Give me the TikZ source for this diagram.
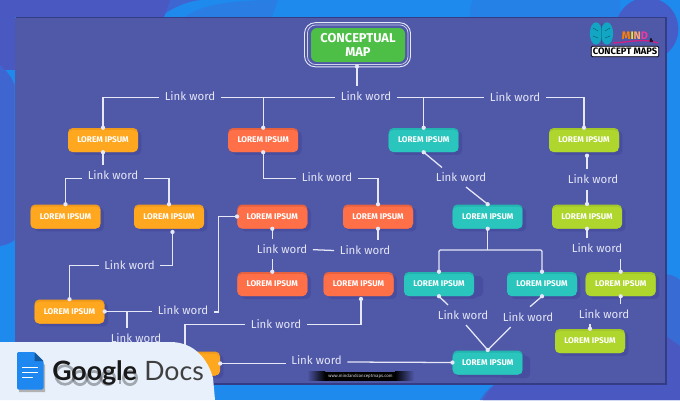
\documentclass[tikz,border=0pt]{standalone}
\usepackage{fontspec}
\setmainfont{Fira Sans}
\newfontfamily\gfont{Lato}
\usetikzlibrary{shadows,calc}
\definecolor{panelc}{HTML}{5058A8}
\definecolor{shadowc}{HTML}{474E9F}
\definecolor{edgec}{HTML}{343C86}
\definecolor{skyc}{HTML}{1E8AEE}
\definecolor{indc}{HTML}{4A58C2}
\definecolor{midc}{HTML}{3F66D0}
\definecolor{linec}{HTML}{E6E8F8}
\definecolor{txtc}{HTML}{E4E6F6}
\definecolor{oA}{HTML}{FFA71E}\definecolor{oB}{HTML}{F09A1C}
\definecolor{rA}{HTML}{FF7049}\definecolor{rB}{HTML}{E6623F}
\definecolor{tA}{HTML}{2AC6BE}\definecolor{tB}{HTML}{22B4AE}
\definecolor{gA}{HTML}{AFD62C}\definecolor{gB}{HTML}{A2C72A}
\definecolor{cA}{HTML}{4DBF46}
\definecolor{blobc}{HTML}{E7F0FB}
\definecolor{docc}{HTML}{1E88F0}
\definecolor{brainc}{HTML}{12A6C4}
\newcommand{\dt}[1]{\fill[linec] (#1) circle (1.6pt);}
\tikzset{
  colbox/.style 2 args={draw=none,fill=#2,rounded corners=3.5pt,minimum width=52.5pt,minimum height=18pt,
    inner sep=0pt,text=white,font=\bfseries\fontsize{6.2}{7}\selectfont,
    general shadow={fill=shadowc,shadow xshift=2.6pt,shadow yshift=-2.2pt},
    path picture={\fill[#1] ([yshift=-1.6pt]path picture bounding box.north west) rectangle (path picture bounding box.south east);}},
  obox/.style={colbox={oA}{oB}},
  rbox/.style={colbox={rA}{rB}},
  tbox/.style={colbox={tA}{tB}},
  gbox/.style={colbox={gA}{gB}},
  lw/.style={inner xsep=4pt,inner ysep=0pt,minimum height=15pt,text=txtc,font=\fontsize{8.6}{10}\selectfont},
  conn/.style={draw=linec,line width=0.95pt},
}
\begin{document}
\begin{tikzpicture}[x=0.75pt,y=-0.75pt]
\useasboundingbox (0,0) rectangle (680,400);
\clip (0,0) rectangle (680,400);
% background
\fill[skyc] (0,0) rectangle (680,400);
\fill[skyc!65!midc] (185,17) .. controls (200,6) and (225,0) .. (278,0) -- (272,17) -- cycle;
\fill[midc] (160,17) .. controls (172,8) and (185,2) .. (200,0) -- (0,0) -- (0,17) -- cycle;
\fill[indc] (0,0) -- (170,0) .. controls (168,6) and (166,12) .. (164,17) -- (0,17) -- cycle;
\fill[indc] (0,0) rectangle (14.5,70);
\fill[midc] (0,65) .. controls (8,72) and (12,78) .. (14.5,85) -- (14.5,240) .. controls (10,244) and (5,245) .. (0,246) -- cycle;
\fill[indc!60!skyc] (660,274) .. controls (670,274) and (676,276) .. (680,280) -- (680,400) -- (480,400) .. controls (485,392) and (490,387) .. (497,383) -- (660,383) -- cycle;
\fill[indc] (680,346) -- (680,400) -- (483,400) .. controls (487,392) and (492,387) .. (497,383) -- (666,383) -- (666,336) -- cycle;
\fill[skyc!75!midc] (470,17) .. controls (470,8) and (471,4) .. (473,0) -- (620,0) -- (620,17) -- cycle;
\fill[indc!92!skyc] (647,29) circle[radius=23.5pt];
% panel
\fill[edgec] (15.5,17) rectangle (667,384.5);
\fill[panelc] (15,17.5) rectangle (665,383);
% concept box
\node[draw=none,fill=cA,rounded corners=4.5pt,minimum width=70.5pt,minimum height=25.5pt,inner sep=0pt,
  text=white,align=center,font=\bfseries\fontsize{9.6}{10.6}\selectfont] (concept) at (358,45) {CONCEPTUAL\\MAP};
\draw[linec!85!panelc,line width=0.55pt,rounded corners=6pt] (307.5,25) rectangle (408,64.5);
\draw[linec,line width=0.7pt,rounded corners=8pt] (304.5,22.7) rectangle (410.5,66.8);
\coordinate (cb) at (357,66.5);
% boxes
\node[obox] (o1) at (103,140) {LOREM IPSUM};
\node[rbox] (r1) at (263.2,140) {LOREM IPSUM};
\node[tbox] (t1) at (423.7,140) {LOREM IPSUM};
\node[gbox] (g1) at (584,140) {LOREM IPSUM};
\node[obox] (o2) at (65.5,216.5) {LOREM IPSUM};
\node[obox] (o3) at (169,216.5) {LOREM IPSUM};
\node[rbox] (r2) at (272.3,216.5) {LOREM IPSUM};
\node[rbox] (r3) at (378,216.5) {LOREM IPSUM};
\node[tbox] (t2) at (487.7,216.5) {LOREM IPSUM};
\node[gbox] (g2) at (587,216.5) {LOREM IPSUM};
\node[rbox] (r4) at (272.3,284) {LOREM IPSUM};
\node[rbox] (r5) at (358.5,284) {LOREM IPSUM};
\fill[shadowc,rounded corners=3pt] (440,276) rectangle (483,296.5);
\node[tbox] (t3) at (439,284) {LOREM IPSUM};
\node[tbox] (t4) at (542,284) {LOREM IPSUM};
\node[gbox] (g3) at (620.7,284) {LOREM IPSUM};
\node[obox] (o4) at (69.5,311.5) {LOREM IPSUM};
\node[gbox] (g4) at (590,341) {LOREM IPSUM};
\fill[shadowc,rounded corners=3pt] (500,356) rectangle (530,378);
\node[tbox] (t5) at (487.7,362.5) {LOREM IPSUM};
\node[obox] (o5) at (185,363.5) {};
% link words
\node[lw] (L1) at (190,96) {Link word};
\node[lw] (L2) at (366,96) {Link word};
\node[lw] (L3) at (515,97) {Link word};
\node[lw] (L4) at (113,175.5) {Link word};
\node[lw] (L5) at (327,177.5) {Link word};
\node[lw] (L6) at (461,177.5) {Link word};
\node[lw] (L7) at (593,179.5) {Link word};
\node[lw] (L8) at (129.5,265.5) {Link word};
\node[lw] (L9) at (282,249) {Link word};
\node[lw] (L10) at (365,250.5) {Link word};
\node[lw] (L11) at (597,248.5) {Link word};
\node[lw] (L12) at (183,310) {Link word};
\node[lw] (L13) at (136,338) {Link word};
\node[lw] (L14) at (276,324.5) {Link word};
\node[lw] (L15) at (463,315.5) {Link word};
\node[lw] (L16) at (528,317) {Link word};
\node[lw] (L17) at (604,314) {Link word};
\node[lw] (L18) at (316.5,360) {Link word};
% helper coordinates
\coordinate (y97a) at (0,97.3);
\coordinate (o3b) at (172.5,232);
\coordinate (g1b) at (587,155.7);
\coordinate (g2t) at (587,204);
\coordinate (r5b) at (361,299);
\coordinate (b13) at (127,312);
\coordinate (bus) at (487.7,250);
\coordinate (t1e) at (442,167.5);
\coordinate (L6e) at (466,187);
\coordinate (t3e) at (448,305);
\coordinate (t4e) at (530,306.7);
\coordinate (L15e) at (466,325);
\coordinate (L16e) at (510.7,327);
\coordinate (t5t) at (487.7,350);
% connectors
\draw[conn] (cb) -- (cb |- L2.north);
\draw[conn] (L1.west |- y97a) -| (o1.north);
\draw[conn] (L1.east |- y97a) -- (L2.west |- y97a);
\draw[conn] (r1.north) -- (r1.north |- y97a);
\draw[conn] (L2.east |- y97a) -- (L3.west |- y97a);
\draw[conn] (t1.north) -- (t1.north |- y97a);
\draw[conn] (L3.east |- y97a) -| (g1.north);
\draw[conn] (o1.south) -- (o1.south |- L4.north);
\draw[conn] ([yshift=-2pt]L4.west) -| (o2.north);
\draw[conn] ([yshift=-2pt]L4.east) -| (o3.north);
\draw[conn] (o3b) |- (L8.east);
\draw[conn] (L8.west) -| (o4.north);
\draw[conn] (o4.east) -- (L12.west |- o4.east);
\draw[conn] (b13) -- (b13 |- L13.north);
\draw[conn] ([yshift=-1.5pt]L12.east) -| ($(L12.east)+(4.5,0)$) |- (r2.west);
\draw[conn] (r1.south) |- ([yshift=-0.5pt]L5.west);
\draw[conn] ([yshift=-0.5pt]L5.east) -| (r3.north);
\draw[conn] (r2.south) -- (r2.south |- L9.north);
\draw[conn] (r4.north |- L9.south) -- (r4.north);
\draw[conn] ([yshift=-0.5pt]L9.east) -- (L10.west);
\draw[conn] (r3.south) -- (r3.south |- L10.north);
\draw[conn] (r5b) |- (L14.east);
\draw[conn] (L14.west) -| (o5.north);
\draw[conn] (o5.east) -- (L18.west |- o5.east);
\draw[conn] ([yshift=-1.5pt]L18.east) -- (t5.west);
\draw[conn] (t1.south) -- (t1e);
\draw[conn] (L6e) -- (t2.north);
\draw[conn] (t2.south) -- (bus);
\draw[conn,rounded corners=1pt] (t3.north) |- (bus) -| (t4.north);
\draw[conn] (t3.south) -- (t3e);
\draw[conn] (t4.south) -- (t4e);
\draw[conn] (L15e) -- (t5t);
\draw[conn] (L16e) -- (t5t);
\draw[conn] (g1b) -- (g1b |- L7.north);
\draw[conn] (g2t |- L7.south) -- (g2t);
\draw[conn] (g2.south) -- (g2.south |- L11.north);
\draw[conn] (g3.north |- L11.south) -- (g3.north);
\draw[conn] (g3.south) -- (g3.south |- L17.north);
\draw[conn] (g4.north |- L17.south) -- (g4.north);
% dots
\foreach \p in {cb,o1.north,o1.south,r1.north,r1.south,t1.north,t1.south,g1.north,g1b,o2.north,o3.north,o3b,r2.west,r2.south,r3.north,r3.south,t2.north,t2.south,g2t,g2.south,r4.north,r5b,t3.north,t3.south,t4.north,t4.south,g3.north,g3.south,o4.north,o4.east,g4.north,t5t,t5.west,o5.east}{\dt{\p}}
% logo
\begin{scope}
\fill[brainc] (596,33.5) ellipse[x radius=4.6pt,y radius=8.4pt];
\fill[brainc] (607,33.5) ellipse[x radius=4.6pt,y radius=8.4pt];
\draw[teal!70!black,line width=0.3pt] (601.5,23) -- (601.5,44) (593,28) -- (598,31) (593,36) -- (598,38) (610,28) -- (605,31) (610,36) -- (605,38);
\draw[magenta!70!violet,line width=1pt] (613,43) .. controls (630,42) and (645,38) .. (658,43);
\node[inner sep=0pt,font=\bfseries\fontsize{8.2}{9}\selectfont] (mind) at (635,35.5) {\textcolor{orange}{M}\textcolor{yellow!85!orange}{I}\textcolor{pink!60!orange}{N}\textcolor{magenta!70!pink}{D}};
\node[inner sep=0pt,text=black,font=\bfseries\fontsize{4}{5}\selectfont] (amp) at (651.5,40.5) {\&};
\node[fill=white,draw=black,line width=0.6pt,rounded corners=0.8pt,inner sep=0pt,minimum width=50.5pt,minimum height=7.8pt,text=black,font=\bfseries\fontsize{7}{7}\selectfont] (cmaps) at (625,51.5) {CONCEPT MAPS};
\end{scope}
% website strip
\shade[left color=panelc,right color=black] (307,371.5) rectangle (325,380.5);
\fill[black] (325,371.5) rectangle (395,380.5);
\shade[left color=black,right color=panelc] (395,371.5) rectangle (414,380.5);
\node[inner sep=0pt,text=white!85!black,font=\fontsize{3.3}{4}\selectfont] (web) at (360.5,376) {www.mindandconceptmaps.com};
% google docs card
\fill[blobc] (0,342) -- (170,342) .. controls (195,342) and (208,360) .. (213,378) -- (215,400) -- (0,400) -- cycle;
\fill[gray!60] (19,356) -- (36,356) -- (45,365) -- (45,392) -- (19,392) -- cycle;
\fill[docc,rounded corners=1pt] (17,352) -- (34.5,352) -- (43.5,361) -- (43.5,389.5) -- (17,389.5) -- cycle;
\fill[docc!65!black] (34.5,352) -- (43.5,361) -- (34.5,361) -- cycle;
\draw[white,line width=1.1pt] (22,367.5) -- (38,367.5) (22,372.7) -- (38,372.7) (22,377.7) -- (33,377.7);
\begin{scope}[opacity=0.3,line width=2pt,draw=black]
\draw (65,375) circle[radius=7pt];
\draw (80,378) circle[radius=5pt];
\draw (94,378) circle[radius=5pt];
\draw (108,378) circle[radius=5pt];
\draw (120,362) -- (120,384);
\draw (130,378) circle[radius=5pt];
\end{scope}
\node[inner sep=0pt,anchor=base west,text=black!90,font=\gfont\bfseries\fontsize{20}{22}\selectfont] (google) at (52,380) {Google};
\node[inner sep=0pt,anchor=base west,text=black!75,font=\gfont\fontsize{20}{22}\selectfont] (docs) at (144,380) {Docs};
\end{tikzpicture}
\end{document}
